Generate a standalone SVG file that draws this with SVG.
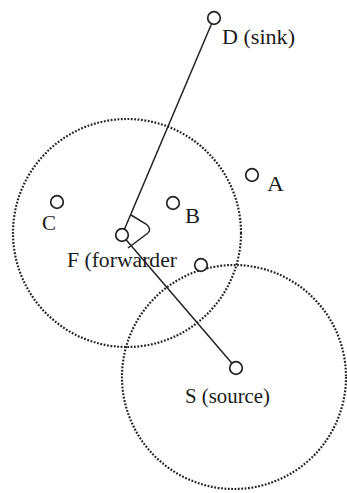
<svg xmlns="http://www.w3.org/2000/svg" width="347" height="493" viewBox="0 0 347 493">
<style>
.range{fill:none;stroke:#222;stroke-width:2.2;stroke-dasharray:1.8 1.6}
.edge{fill:none;stroke:#222;stroke-width:1.5}
.node{fill:#fff;stroke:#222;stroke-width:1.7}
.lbl{font-family:"Liberation Serif","Times New Roman",serif;font-size:20px;fill:#1a1a1a}
</style>
<rect width="347" height="493" fill="#fff"/>
<g id="ranges">
<circle class="range" cx="127" cy="233" r="114"/>
<circle class="range" cx="234" cy="377" r="112"/>
</g>
<g id="connectors">
<line class="edge" x1="214" y1="18" x2="122" y2="235"/>
<line class="edge" x1="122" y1="235" x2="236" y2="368"/>
<path class="edge" d="M131,215 L146,224 Q152,229 148,233 L128,248"/>
</g>
<g id="D"><circle class="node" cx="214" cy="18" r="6.3"/><text class="lbl" x="222" y="44" textLength="73" lengthAdjust="spacingAndGlyphs">D (sink)</text></g>
<g id="A"><circle class="node" cx="252" cy="175" r="6.3"/><text class="lbl" x="267" y="191" textLength="17" lengthAdjust="spacingAndGlyphs">A</text></g>
<g id="B"><circle class="node" cx="173" cy="203" r="6.3"/><text class="lbl" x="185" y="223" textLength="15" lengthAdjust="spacingAndGlyphs">B</text></g>
<g id="C"><circle class="node" cx="57" cy="202" r="6.3"/><text class="lbl" x="42" y="230" textLength="14" lengthAdjust="spacingAndGlyphs">C</text></g>
<g id="F"><circle class="node" cx="122" cy="235" r="6.3"/><text class="lbl" x="67" y="267" textLength="110" lengthAdjust="spacingAndGlyphs">F (forwarder</text></g>
<g id="N"><circle class="node" cx="201" cy="265" r="6.3"/></g>
<g id="S"><circle class="node" cx="236" cy="368" r="6.3"/><text class="lbl" x="185" y="403" textLength="85" lengthAdjust="spacingAndGlyphs">S (source)</text></g>
</svg>
